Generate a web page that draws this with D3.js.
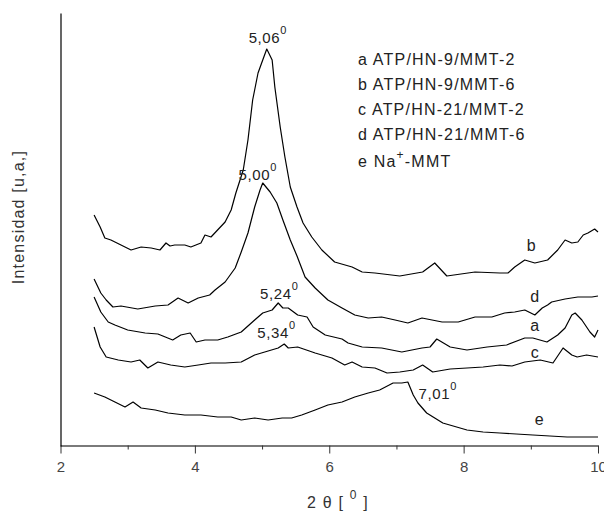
<!DOCTYPE html>
<html>
<head>
<meta charset="utf-8">
<script src="https://cdn.jsdelivr.net/npm/d3@7"></script>
<style>
  html, body { margin: 0; padding: 0; background: #fff; }
  svg text { font-family: "Liberation Sans", Arial, Helvetica, sans-serif; }
</style>
</head>
<body>
<svg id="chart" width="604" height="512"></svg>
<script>
// XRD patterns, 2θ (degrees) vs. intensity (arbitrary units, offset per sample)
const seriesB = [[2.50,231],[2.59,219],[2.66,208],[2.75,206],[2.90,201],[3.05,196],[3.20,199],[3.35,198],[3.48,196],[3.57,203],[3.63,200],[3.70,201],[3.85,201],[3.94,199],[4.09,203],[4.15,211],[4.24,209],[4.31,214],[4.45,224],[4.54,236],[4.61,253],[4.72,276],[4.79,306],[4.86,346],[4.94,373],[5.01,386],[5.07,397],[5.15,386],[5.19,359],[5.27,319],[5.34,289],[5.42,259],[5.52,239],[5.61,223],[5.74,209],[5.89,196],[6.08,184],[6.34,179],[6.49,174],[6.68,173],[7.05,170],[7.39,174],[7.57,183],[7.75,170],[8.17,174],[8.54,173],[8.66,173],[8.76,179],[8.91,186],[9.06,183],[9.25,186],[9.40,196],[9.51,206],[9.61,203],[9.70,204],[9.78,211],[9.85,213],[9.95,217],[10.00,214]];
const seriesD = [[2.50,167],[2.60,153],[2.68,146],[2.78,139],[2.90,140],[3.15,137],[3.41,140],[3.60,141],[3.75,148],[3.90,143],[4.05,148],[4.22,151],[4.30,156],[4.45,164],[4.60,178],[4.69,194],[4.79,213],[4.89,239],[4.97,256],[5.01,263],[5.12,254],[5.22,243],[5.31,226],[5.42,206],[5.52,190],[5.64,169],[5.79,158],[5.98,146],[6.19,138],[6.38,131],[6.58,128],[6.78,129],[6.98,126],[7.17,123],[7.38,128],[7.68,124],[7.92,124],[8.17,129],[8.42,129],[8.61,133],[8.76,134],[8.91,136],[9.06,131],[9.17,138],[9.25,141],[9.31,144],[9.51,147],[9.70,149],[9.91,149],[10.00,150]];
const seriesA = [[2.50,149],[2.60,134],[2.71,124],[2.81,121],[3.00,116],[3.26,113],[3.45,112],[3.67,106],[3.79,111],[3.93,113],[4.02,104],[4.15,106],[4.34,106],[4.49,109],[4.69,114],[4.89,126],[5.01,133],[5.15,136],[5.24,143],[5.31,138],[5.39,138],[5.53,131],[5.67,129],[5.76,119],[5.94,111],[6.19,107],[6.28,103],[6.49,99],[6.78,98],[7.08,94],[7.38,98],[7.50,99],[7.60,107],[7.80,99],[8.05,96],[8.35,99],[8.64,101],[8.91,108],[9.03,108],[9.24,104],[9.40,111],[9.51,118],[9.61,131],[9.66,133],[9.76,126],[9.88,114],[9.95,109],[10.00,116]];
const seriesC = [[2.50,119],[2.59,99],[2.68,89],[2.86,86],[3.05,84],[3.18,86],[3.30,78],[3.45,84],[3.64,81],[3.85,79],[4.05,81],[4.24,83],[4.45,83],[4.69,84],[4.89,91],[5.09,95],[5.24,98],[5.33,102],[5.39,98],[5.53,99],[5.79,93],[6.04,88],[6.23,81],[6.34,84],[6.49,79],[6.68,78],[6.86,73],[7.05,74],[7.25,76],[7.39,81],[7.54,74],[7.80,77],[8.05,78],[8.29,79],[8.54,81],[8.72,80],[8.91,84],[9.14,86],[9.33,83],[9.48,98],[9.61,91],[9.69,89],[9.83,91],[10.00,89]];
const seriesE = [[2.50,53],[2.66,49],[2.81,44],[2.96,39],[3.08,44],[3.20,38],[3.41,36],[3.60,33],[3.85,31],[4.09,31],[4.34,29],[4.54,29],[4.69,26],[4.89,28],[5.09,26],[5.30,28],[5.44,28],[5.59,31],[5.79,36],[5.98,41],[6.19,44],[6.38,49],[6.58,53],[6.75,56],[6.95,63],[7.08,63],[7.17,64],[7.25,51],[7.32,43],[7.45,33],[7.69,23],[8.05,16],[8.29,14],[8.54,13],[9.03,11],[9.54,9],[10.00,9]];

const legendLines = ["a ATP/HN-9/MMT-2", "b ATP/HN-9/MMT-6", "c ATP/HN-21/MMT-2", "d ATP/HN-21/MMT-6"];
const majorTicks = [2, 4, 6, 8, 10];
const minorTicks = [3, 5, 7, 9];

// peak annotations: label text, 2θ anchor and intensity anchor
const peakLabels = [
  { text: "5,06", x: 4.80, y: 403 },
  { text: "5,00", x: 4.65, y: 266 },
  { text: "5,24", x: 4.97, y: 147 },
  { text: "5,34", x: 4.93, y: 108 },
  { text: "7,01", x: 7.33, y: 47 }
];
const curveLetters = [
  { t: "b", x: 8.94, y: 195 },
  { t: "d", x: 8.99, y: 144 },
  { t: "a", x: 8.99, y: 115 },
  { t: "c", x: 9.00, y: 88 },
  { t: "e", x: 9.06, y: 21 }
];

const svg = d3.select("#chart");
const x = d3.scaleLinear().domain([2, 10]).range([60.5, 598]);
const y = d3.scaleLinear().domain([0, 433]).range([446, 13]);
const LS = "1.2px";

// x axis: major ticks with labels, minor ticks without
const xAxis = svg.append("g").attr("transform", "translate(0,445.5)")
  .call(d3.axisBottom(x).tickValues(majorTicks).tickSize(8).tickSizeOuter(0).tickFormat(d3.format("d")));
xAxis.select(".domain").attr("stroke", "#7a7a7a").attr("stroke-width", 2);
xAxis.selectAll(".tick line").attr("stroke", "#333");
xAxis.selectAll(".tick text").attr("font-size", 15).attr("fill", "#444").attr("dy", "1.05em")
  .attr("font-family", "Liberation Sans, Arial, sans-serif");
const xMinor = svg.append("g").attr("transform", "translate(0,445.5)")
  .call(d3.axisBottom(x).tickValues(minorTicks).tickSize(4).tickFormat(""));
xMinor.select(".domain").remove();
xMinor.selectAll(".tick line").attr("stroke", "#333");

// y axis: plain line, no ticks
const yAxis = svg.append("g").attr("transform", "translate(60.5,0)")
  .call(d3.axisLeft(y).tickValues([]).tickSizeOuter(0));
yAxis.select(".domain").attr("stroke", "#000").attr("stroke-width", 1.2);

// curves
const line = d3.line().x(d => x(d[0])).y(d => y(d[1]));
[seriesB, seriesD, seriesA, seriesC, seriesE].forEach(s => {
  svg.append("path").datum(s).attr("d", line)
    .attr("fill", "none").attr("stroke", "#000").attr("stroke-width", 1.2)
    .attr("stroke-linejoin", "round");
});

// peak labels with superscript degree mark
peakLabels.forEach(p => {
  const t = svg.append("text").attr("x", x(p.x)).attr("y", y(p.y))
    .attr("font-size", 15).attr("fill", "#222").attr("letter-spacing", "0.6px");
  t.append("tspan").text(p.text);
  t.append("tspan").attr("font-size", 11).attr("dy", -9).text("0");
});

// curve letters
curveLetters.forEach(c => {
  svg.append("text").attr("x", x(c.x)).attr("y", y(c.y))
    .attr("font-size", 16).attr("fill", "#222").text(c.t);
});

// legend
const lg = svg.append("g").attr("font-size", 16).attr("fill", "#222").attr("letter-spacing", LS);
legendLines.forEach((s, i) => {
  lg.append("text").attr("x", 358).attr("y", 65 + i * 25).text(s);
});
const eLine = lg.append("text").attr("x", 358).attr("y", 167);
eLine.append("tspan").text("e Na");
eLine.append("tspan").attr("font-size", 12).attr("dy", -8).text("+");
eLine.append("tspan").attr("dy", 8).text("-MMT");

// axis titles
svg.append("text").attr("transform", "translate(24,217) rotate(-90)")
  .attr("text-anchor", "middle").attr("font-size", 16).attr("fill", "#333")
  .attr("letter-spacing", LS).text("Intensidad [u,a,]");
const xt = svg.append("text").attr("x", 307).attr("y", 508)
  .attr("font-size", 16).attr("fill", "#333").attr("letter-spacing", LS);
xt.append("tspan").text("2 θ [ ");
xt.append("tspan").attr("font-size", 12).attr("dy", -9).text("0");
xt.append("tspan").attr("dy", 9).text(" ]");
</script>
</body>
</html>
